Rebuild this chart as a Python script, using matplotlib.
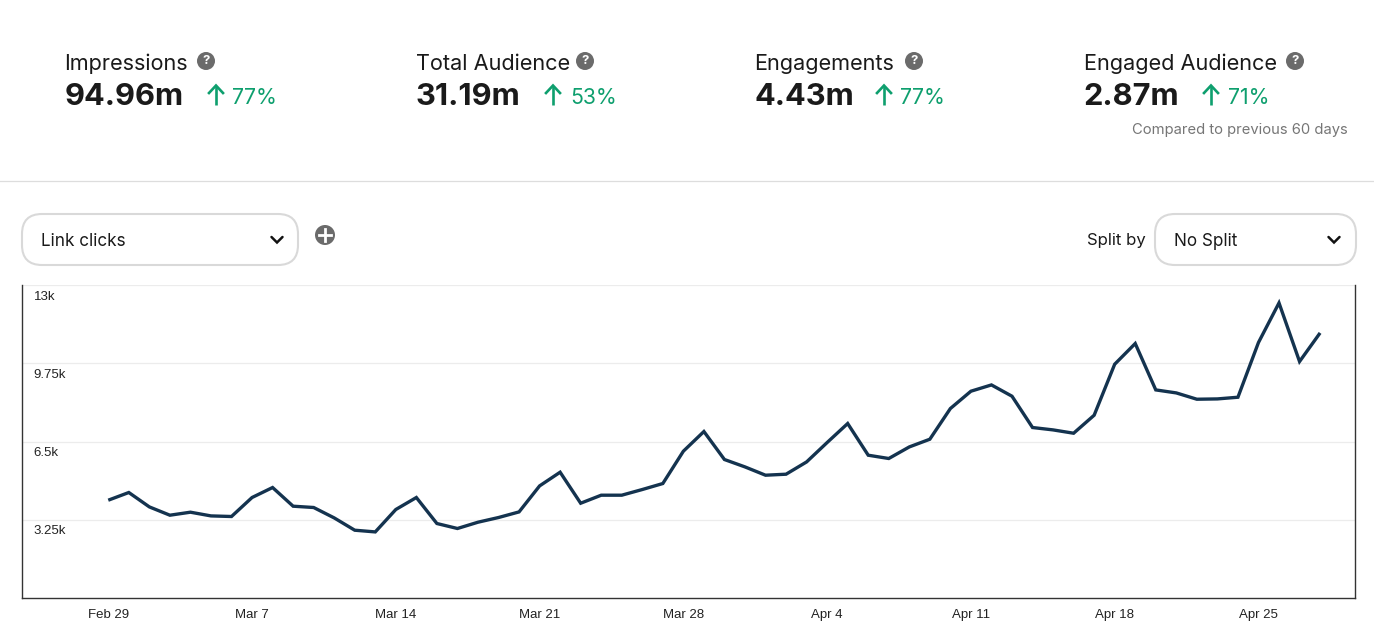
import matplotlib
matplotlib.use("Agg")
import matplotlib.pyplot as plt
import pandas as pd
from matplotlib.patches import FancyBboxPatch, Circle
from matplotlib.transforms import ScaledTranslation

W, H = 1374, 630
UI_FONT = "Inter"
TICK_FONT = "Liberation Sans"

start_date = "2024-02-29"
link_clicks = [4070, 4390, 3792, 3447, 3572, 3418, 3393, 4182, 4597, 3821,
               3767, 3335, 2824, 2753, 3684, 4182, 3102, 2895, 3156, 3351,
               3584, 4664, 5233, 3945, 4278, 4278, 4514, 4763, 6105, 6923,
               5760, 5453, 5108, 5150, 5660, 6466, 7255, 5939, 5802, 6283,
               6603, 7878, 8597, 8858, 8389, 7089, 6990, 6852, 7600, 9718,
               10578, 8651, 8526, 8264, 8277, 8347, 10619, 12264, 9830, 11018]
y_ticks = [3250, 6500, 9750, 13000]
y_labels = ["3.25k", "6.5k", "9.75k", "13k"]
x_tick_dates = ["2024-02-29", "2024-03-07", "2024-03-14", "2024-03-21", "2024-03-28",
                "2024-04-04", "2024-04-11", "2024-04-18", "2024-04-25"]
x_labels = ["Feb 29", "Mar 7", "Mar 14", "Mar 21", "Mar 28", "Apr 4", "Apr 11", "Apr 18", "Apr 25"]

kpi_titles = ["Impressions", "Total Audience", "Engagements", "Engaged Audience"]
kpi_values = ["94.96m", "31.19m", "4.43m", "2.87m"]
kpi_changes = ["77%", "53%", "77%", "71%"]
kpi_x = [64.5, 415.5, 754.5, 1083.5]
kpi_help_x = [206, 585, 914, 1295]
kpi_arrow_x = [216, 553, 884, 1211]
kpi_change_x = [232, 570, 900, 1228]

INK = "#1a1a1a"
GREEN = "#0e9f6e"
GREY = "#6b6b6b"
BORDER = "#d9d9d9"
LINE = "#14334f"

fig = plt.figure(figsize=(W / 100, H / 100), dpi=100, facecolor="white")

# Page furniture, in pixel coordinates
ui = fig.add_axes([0, 0, 1, 1])
ui.set_xlim(0, W)
ui.set_ylim(H, 0)
ui.axis("off")


def rounded_box(x0, y0, x1, y1):
    ui.add_patch(FancyBboxPatch((x0 + 20, y0 + 20), x1 - x0 - 40, y1 - y0 - 40,
                                boxstyle="round,pad=20,rounding_size=20",
                                fc="white", ec=BORDER, lw=1.5))


def chevron(cx, cy):
    ui.plot([cx - 5.5, cx, cx + 5.5], [cy - 3, cy + 2.5, cy - 3], color="#111111", lw=1.8,
            solid_capstyle="round", solid_joinstyle="miter")


for x, title, value, change, hx, ax_, cx in zip(kpi_x, kpi_titles, kpi_values, kpi_changes,
                                                kpi_help_x, kpi_arrow_x, kpi_change_x):
    ui.text(x, 64, title, fontsize=15.6, family=UI_FONT, color=INK, va="center", ha="left")
    ui.text(x, 97, value, fontsize=22.2, family=UI_FONT, weight="bold", color=INK, va="center", ha="left")
    ui.add_patch(Circle((hx, 61), 9, fc=GREY, ec="none"))
    ui.text(hx, 61, "?", fontsize=9.5, family=UI_FONT, weight="bold", color="white", va="center", ha="center")
    ui.plot([ax_, ax_], [105, 86], color=GREEN, lw=1.9, solid_capstyle="butt")
    ui.plot([ax_ - 7, ax_, ax_ + 7], [93, 85.5, 93], color=GREEN, lw=1.9, solid_joinstyle="miter")
    ui.text(cx, 98.5, change, fontsize=15.3, family=UI_FONT, color=GREEN, va="center", ha="left")

ui.text(1348, 130, "Compared to previous 60 days", fontsize=10.65, family=UI_FONT,
        color="#767676", va="center", ha="right")
ui.plot([0, W], [181, 181], color="#dddddd", lw=0.9)

rounded_box(22, 214, 298, 265)
ui.text(41, 242, "Link clicks", fontsize=12.3, family=UI_FONT, color=INK, va="center", ha="left")
chevron(277, 240)
ui.add_patch(Circle((325, 235), 10, fc=GREY, ec="none"))
ui.plot([319, 331], [235, 235], color="white", lw=2)
ui.plot([325, 325], [229, 241], color="white", lw=2)

ui.text(1087, 241, "Split by", fontsize=12, family=UI_FONT, color=INK, va="center", ha="left")
rounded_box(1155, 214, 1356, 265)
ui.text(1174, 242, "No Split", fontsize=12.3, family=UI_FONT, color=INK, va="center", ha="left")
chevron(1334, 240)

# Chart
left, right, top, bottom = 22.0, 1355.0, 285.2, 598.2
ax = fig.add_axes([left / W, 1 - bottom / H, (right - left) / W, (bottom - top) / H])
ax.patch.set_alpha(0)
dates = pd.date_range(start_date, periods=len(link_clicks), freq="D")
ax.plot(dates, link_clicks, color=LINE, lw=2.4, solid_joinstyle="miter", solid_capstyle="butt", zorder=3)

ax.set_ylim(0, 13000)
x0 = pd.Timestamp(start_date)
ax.set_xlim(x0 - pd.Timedelta(days=4.2), x0 + pd.Timedelta(days=60.7))

ax.set_yticks(y_ticks)
ax.set_yticklabels(y_labels, fontsize=9.5, family=TICK_FONT, color="#222222")
ax.set_xticks(pd.to_datetime(x_tick_dates))
ax.set_xticklabels(x_labels, fontsize=9.5, family=TICK_FONT, color="#222222")
ax.tick_params(axis="x", length=0, pad=8)
ax.tick_params(axis="y", length=0, pad=-8.3)
offset = ScaledTranslation(0, -10 / 100, fig.dpi_scale_trans)
for lab in ax.get_yticklabels():
    lab.set_ha("left")
    lab.set_transform(lab.get_transform() + offset)
ax.grid(axis="y", color="#ececec", lw=0.9)
ax.set_axisbelow(True)
for side in ("left", "right", "bottom"):
    ax.spines[side].set_color("#333333")
    ax.spines[side].set_linewidth(1)
ax.spines["top"].set_visible(False)

fig.savefig("out.png", dpi=100, facecolor="white")
